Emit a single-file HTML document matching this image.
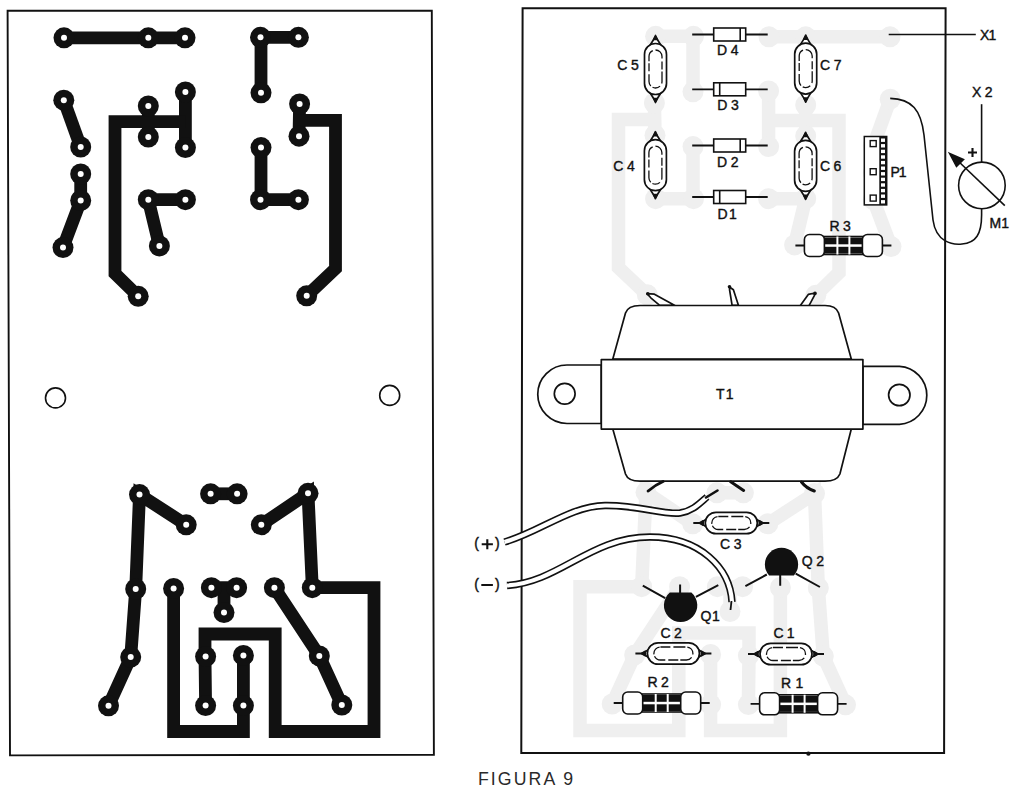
<!DOCTYPE html><html><head><meta charset="utf-8"><style>html,body{margin:0;padding:0;background:#fff;overflow:hidden}svg{display:block}text{font-family:"Liberation Sans",sans-serif;fill:#111}</style></head><body>
<svg width="1019" height="793" viewBox="0 0 1019 793">
<defs><g id="tr" fill="none" stroke-linejoin="miter"><path d="M64,37.8H185"/><path d="M63.8,100.2L80.7,147"/><path d="M185.4,92V147.6"/><path d="M148.3,106V137"/><path d="M185.4,121.6H115V273.6L138.2,296.3"/><path d="M80.7,174V200.5L63,247.6"/><path d="M148.3,199.7H185.4M148.3,199.7L159.4,245.9"/><path d="M298.4,37.3H261V92.8"/><path d="M299.6,104L299,136.2M299.3,120.4H335.5V268.6L306.7,295.8"/><path d="M261,147.6V199.7H298.4"/><path d="M186.2,524.8L139.5,494.6L135.7,589L130.7,657.1L108.5,705.8"/><path d="M210.6,493.8H237.1"/><path d="M261.3,524.8L308,493.3L312.3,587.7H374V731.5H275.2V634H205V656.6L205.6,705.6"/><path d="M173.6,588.5V731.5H243.4V655.4"/><path d="M211.4,587.7H236.6M224,587.7V612.5"/><path d="M274.4,587.7L319.3,655.9L341.8,705"/></g><g id="pd"><circle cx="64" cy="37.8" r="10.5"/><circle cx="148.3" cy="37.8" r="10.5"/><circle cx="185" cy="37.8" r="10.5"/><circle cx="63.8" cy="100.2" r="10.5"/><circle cx="80.7" cy="147" r="10.5"/><circle cx="148.3" cy="106" r="10.5"/><circle cx="148.3" cy="137" r="10.5"/><circle cx="185.4" cy="92" r="10.5"/><circle cx="185.4" cy="147.6" r="10.5"/><circle cx="138.2" cy="296.3" r="10.5"/><circle cx="80.7" cy="174" r="10.5"/><circle cx="80.7" cy="200.5" r="10.5"/><circle cx="63" cy="247.6" r="10.5"/><circle cx="148.3" cy="199.7" r="10.5"/><circle cx="185.4" cy="199.7" r="10.5"/><circle cx="159.4" cy="245.9" r="10.5"/><circle cx="260.5" cy="37.3" r="10.5"/><circle cx="298.4" cy="37.3" r="10.5"/><circle cx="261" cy="92.8" r="10.5"/><circle cx="299.6" cy="104" r="10.5"/><circle cx="299" cy="136.2" r="10.5"/><circle cx="306.7" cy="295.8" r="10.5"/><circle cx="261" cy="147.6" r="10.5"/><circle cx="260.5" cy="199.7" r="10.5"/><circle cx="298.4" cy="199.7" r="10.5"/><circle cx="139.5" cy="494.6" r="10.5"/><circle cx="186.2" cy="524.8" r="10.5"/><circle cx="135.7" cy="589" r="10.5"/><circle cx="130.7" cy="657.1" r="10.5"/><circle cx="108.5" cy="705.8" r="10.5"/><circle cx="210.6" cy="493.8" r="10.5"/><circle cx="237.1" cy="493.8" r="10.5"/><circle cx="308" cy="493.3" r="10.5"/><circle cx="261.3" cy="524.8" r="10.5"/><circle cx="312.3" cy="587.7" r="10.5"/><circle cx="205.6" cy="656.6" r="10.5"/><circle cx="205.6" cy="705.6" r="10.5"/><circle cx="173.6" cy="588.5" r="10.5"/><circle cx="243.4" cy="705.6" r="10.5"/><circle cx="243.4" cy="655.4" r="10.5"/><circle cx="211.4" cy="587.7" r="10.5"/><circle cx="236.6" cy="587.7" r="10.5"/><circle cx="224" cy="612.5" r="10.5"/><circle cx="274.4" cy="587.7" r="10.5"/><circle cx="319.3" cy="655.9" r="10.5"/><circle cx="341.8" cy="705" r="10.5"/></g><g id="hl" fill="#fff"><circle cx="64" cy="37.8" r="3"/><circle cx="148.3" cy="37.8" r="3"/><circle cx="185" cy="37.8" r="3"/><circle cx="63.8" cy="100.2" r="3"/><circle cx="80.7" cy="147" r="3"/><circle cx="148.3" cy="106" r="3"/><circle cx="148.3" cy="137" r="3"/><circle cx="185.4" cy="92" r="3"/><circle cx="185.4" cy="147.6" r="3"/><circle cx="138.2" cy="296.3" r="3"/><circle cx="80.7" cy="174" r="3"/><circle cx="80.7" cy="200.5" r="3"/><circle cx="63" cy="247.6" r="3"/><circle cx="148.3" cy="199.7" r="3"/><circle cx="185.4" cy="199.7" r="3"/><circle cx="159.4" cy="245.9" r="3"/><circle cx="260.5" cy="37.3" r="3"/><circle cx="298.4" cy="37.3" r="3"/><circle cx="261" cy="92.8" r="3"/><circle cx="299.6" cy="104" r="3"/><circle cx="299" cy="136.2" r="3"/><circle cx="306.7" cy="295.8" r="3"/><circle cx="261" cy="147.6" r="3"/><circle cx="260.5" cy="199.7" r="3"/><circle cx="298.4" cy="199.7" r="3"/><circle cx="139.5" cy="494.6" r="3"/><circle cx="186.2" cy="524.8" r="3"/><circle cx="135.7" cy="589" r="3"/><circle cx="130.7" cy="657.1" r="3"/><circle cx="108.5" cy="705.8" r="3"/><circle cx="210.6" cy="493.8" r="3"/><circle cx="237.1" cy="493.8" r="3"/><circle cx="308" cy="493.3" r="3"/><circle cx="261.3" cy="524.8" r="3"/><circle cx="312.3" cy="587.7" r="3"/><circle cx="205.6" cy="656.6" r="3"/><circle cx="205.6" cy="705.6" r="3"/><circle cx="173.6" cy="588.5" r="3"/><circle cx="243.4" cy="705.6" r="3"/><circle cx="243.4" cy="655.4" r="3"/><circle cx="211.4" cy="587.7" r="3"/><circle cx="236.6" cy="587.7" r="3"/><circle cx="224" cy="612.5" r="3"/><circle cx="274.4" cy="587.7" r="3"/><circle cx="319.3" cy="655.9" r="3"/><circle cx="341.8" cy="705" r="3"/></g><g id="capV" stroke="#111111" stroke-width="1.7" fill="#fff" stroke-linejoin="round"><path d="M0,-32.5 L7.5,-20.5 L7.5,20.5 L0,32.5 L-7.5,20.5 L-7.5,-20.5Z"/><rect x="-11" y="-25.5" width="22" height="51" rx="11"/><path d="M-1.8,-29.5 L0,-33.5 L1.8,-29.5Z" fill="#111111"/><path d="M-1.8,29.5 L0,33.5 L1.8,29.5Z" fill="#111111"/><rect x="-6.5" y="-19" width="13" height="38" rx="6.5" fill="none" stroke-width="1.3" stroke-dasharray="12 3 8 2"/></g><g id="capH" stroke="#111111" stroke-width="1.7" fill="#fff" stroke-linejoin="round"><path d="M-38,0H-31M31,0H38" fill="none" stroke-width="2"/><path d="M-31,0 L-18,-8.4 H18 L31,0 L18,8.4 H-18Z"/><rect x="-26" y="-10.7" width="52" height="21.4" rx="10.7"/><path d="M-32,0 L-28,-2.2 L-28,2.2Z M32,0 L28,-2.2 L28,2.2Z" fill="#111111"/><rect x="-19.5" y="-6.5" width="39" height="13" rx="6.5" fill="none" stroke-width="1.3" stroke-dasharray="10 3 12 2"/></g><g id="res" stroke="#111111" stroke-width="1.6" fill="#fff"><path d="M-48,0H-39M39,0H48" fill="none" stroke-width="1.8"/><rect x="-20" y="-9" width="40" height="18" fill="#fff"/><rect x="-39" y="-11" width="20" height="22" rx="5"/><rect x="19" y="-11" width="20" height="22" rx="5"/><rect x="-19" y="-8" width="38" height="6.8" fill="#111111" stroke="none"/><rect x="-19" y="1.3" width="38" height="6.8" fill="#111111" stroke="none"/><path d="M-6,-9V9M6,-9V9" stroke="#fff" stroke-width="2"/></g></defs>
<rect width="1019" height="793" fill="#fff"/>
<path d="M7.6,10.8 L431.8,10.6 L433.9,754.8 L10,755.4Z" fill="none" stroke="#111" stroke-width="1.9"/>
<use href="#tr" stroke="#111111" stroke-width="12.8"/>
<use href="#pd" fill="#111111"/>
<use href="#hl"/>
<circle cx="55.5" cy="397.9" r="10" fill="none" stroke="#111111" stroke-width="1.6"/>
<circle cx="389.7" cy="395.4" r="10" fill="none" stroke="#111111" stroke-width="1.6"/>
<g>
<use href="#tr" stroke="#efefef" stroke-width="13.5" transform="matrix(-1,0,0,1,954,-1)"/>
<use href="#pd" fill="#efefef" transform="matrix(-1,0,0,1,954,-1) " style="opacity:1"/>
</g>
<circle cx="808.4" cy="753.6" r="2.2" fill="#111111"/>
<path d="M522.6,8.3 L945.6,8.3 L944.1,753.1 L521.3,753Z" fill="none" stroke="#111" stroke-width="2"/>
<use href="#capV" transform="translate(655.5,69)"/>
<use href="#capV" transform="translate(805.7,68.6)"/>
<use href="#capV" transform="translate(655.4,165.2)"/>
<use href="#capV" transform="translate(805.6,165.8)"/>
<use href="#capH" transform="translate(673.4,653.5)"/>
<use href="#capH" transform="translate(786,654)"/>
<use href="#capH" transform="translate(731.3,523)"/>
<g transform="translate(729.7,34.5)" stroke="#111111" stroke-width="1.6" fill="#fff"><path d="M-37.5,0H-16M16,0H38" fill="none" stroke-width="1.8"/><rect x="-16" y="-6.5" width="32" height="13"/><path d="M10.5,-6.5V6.5" fill="none"/></g>
<g transform="translate(729.7,89.3)" stroke="#111111" stroke-width="1.6" fill="#fff"><path d="M-37.5,0H-16M16,0H38" fill="none" stroke-width="1.8"/><rect x="-16" y="-6.5" width="32" height="13"/><path d="M-10,-6.5V6.5" fill="none"/></g>
<g transform="translate(729.7,145.5)" stroke="#111111" stroke-width="1.6" fill="#fff"><path d="M-37.5,0H-16M16,0H38" fill="none" stroke-width="1.8"/><rect x="-16" y="-6.5" width="32" height="13"/><path d="M10.5,-6.5V6.5" fill="none"/></g>
<g transform="translate(729.7,197)" stroke="#111111" stroke-width="1.6" fill="#fff"><path d="M-37.5,0H-16M16,0H38" fill="none" stroke-width="1.8"/><rect x="-16" y="-6.5" width="32" height="13"/><path d="M-10,-6.5V6.5" fill="none"/></g>
<use href="#res" transform="translate(661.7,703)"/>
<use href="#res" transform="translate(798.6,703.8)"/>
<use href="#res" transform="translate(843.4,245.5)"/>
<g stroke="#111111" stroke-width="1.5" fill="#fff"><rect x="864.3" y="136.5" width="22.4" height="68.4"/><rect x="879.3" y="136.5" width="7.4" height="68.4" fill="#111111" stroke="none"/><rect x="881" y="138.5" width="4" height="3.4" fill="#fff" stroke="none"/><rect x="881" y="144.1" width="4" height="3.4" fill="#fff" stroke="none"/><rect x="881" y="149.7" width="4" height="3.4" fill="#fff" stroke="none"/><rect x="881" y="155.3" width="4" height="3.4" fill="#fff" stroke="none"/><rect x="881" y="160.9" width="4" height="3.4" fill="#fff" stroke="none"/><rect x="881" y="166.5" width="4" height="3.4" fill="#fff" stroke="none"/><rect x="881" y="172.1" width="4" height="3.4" fill="#fff" stroke="none"/><rect x="881" y="177.7" width="4" height="3.4" fill="#fff" stroke="none"/><rect x="881" y="183.3" width="4" height="3.4" fill="#fff" stroke="none"/><rect x="881" y="188.9" width="4" height="3.4" fill="#fff" stroke="none"/><rect x="881" y="194.5" width="4" height="3.4" fill="#fff" stroke="none"/><rect x="881" y="200.1" width="4" height="3.4" fill="#fff" stroke="none"/><rect x="870.2" y="140.6" width="6" height="6" stroke-width="1.4"/><rect x="870.2" y="168.7" width="6" height="6" stroke-width="1.4"/><rect x="870.2" y="195.1" width="6" height="6" stroke-width="1.4"/></g>
<g stroke="#111111" stroke-width="1.7" fill="#fff" stroke-linejoin="round">
<path d="M659.7,305.4 L650.8,297.8 L647,293.6 L654.4,294.2 L674.9,305.4Z"/>
<path d="M732.1,305.4 L729.6,290 L729.5,287 L733.4,289.8 L738.5,305.4Z"/>
<path d="M800,305.9 L808.3,294.4 L815.3,293 L814.2,295.9 L808.9,305.9Z"/>
<circle cx="647.8" cy="293.8" r="1.8" fill="#111111" stroke="none"/><circle cx="729.5" cy="286.8" r="1.8" fill="#111111" stroke="none"/><circle cx="815" cy="293.4" r="1.8" fill="#111111" stroke="none"/>
<path d="M612.8,359 L625.5,313 Q628,305.5 640,305.5 H825 Q836,305.5 838.6,313 L851.3,359Z"/>
<path d="M612.8,429 L625.5,474 Q628,481.2 640,481.2 H825 Q837,481.2 839.9,474 L851.3,429Z"/>
<path d="M601.3,365 H567 A29,29 0 0 0 567,423.5 H601.3Z"/>
<path d="M862.9,366.4 H899.5 A29,29 0 0 1 899.5,424.3 H862.9Z"/>
<circle cx="564.7" cy="393.7" r="10.4"/><circle cx="899.3" cy="395" r="10.7"/>
<rect x="601.3" y="359.6" width="261.6" height="69.5"/>
</g>
<g stroke="#111111" stroke-width="3" stroke-linecap="round"><path d="M648.2,491 Q655,485 663,481.5M730.7,481.8 Q737,486 743.6,490.4M801.5,482 Q806,488 814.3,491"/></g>
<path d="M504.5,542 C540,532 570,506 605,505.5 C640,505 662,515 680,513 C693,511 700,503 707,497" fill="none" stroke="#111111" stroke-width="7.4" stroke-linecap="butt"/><path d="M504.5,542 C540,532 570,506 605,505.5 C640,505 662,515 680,513 C693,511 700,503 707,497" fill="none" stroke="#fff" stroke-width="4.2" stroke-linecap="butt"/>
<path d="M706,497.5 L717.5,490.5" stroke="#111111" stroke-width="2.6" stroke-linecap="round"/>
<path d="M507,585.5 C560,582 590,537 650,537 C700,537 730,568 732,602" fill="none" stroke="#111111" stroke-width="7.4" stroke-linecap="butt"/><path d="M507,585.5 C560,582 590,537 650,537 C700,537 730,568 732,602" fill="none" stroke="#fff" stroke-width="4.2" stroke-linecap="butt"/>
<path d="M731.5,601 L730.5,610" stroke="#111111" stroke-width="1.8"/>
<g stroke="#111111" stroke-width="2" fill="#111111"><path d="M669.8,592.6 H691.4 A16.7,16.7 0 1 1 669.8,592.6Z" stroke="none"/><path d="M642.8,585.7L665.2,598.2M695.9,596.9L718.3,585.1M680.1,584.4V593" fill="none"/><path d="M769.1,575.4 H793.9 A16.6,16.6 0 1 0 769.1,575.4Z" stroke="none"/><path d="M766.8,574.5L745.4,586.2M795.7,573.6L819.9,587M780.2,575V585.7" fill="none"/></g>
<g stroke="#111111" stroke-width="1.6" fill="none"><path d="M888.7,34.5H975.8"/><path d="M981.6,104.2V162.2"/><circle cx="981.9" cy="185.4" r="23.3"/><path d="M1004.8,205.7L957,160"/><path d="M890.2,98.4 C912,99 921,110 924,135 L933,220 C936,242 952,245 962,244 C976,243 981.6,234 981.6,215 V208.6"/><path d="M949.6,153.5L963.5,159.5L956.5,166.5Z" fill="#111111"/><path d="M968,152.5H977M972.5,148V157" stroke-width="2.1"/></g>
<g font-size="14" style="stroke:#111;stroke-width:0.4px"><text x="617.2" y="70.0" letter-spacing="3.6">C5</text><text x="820.0" y="70.0" letter-spacing="3.6">C7</text><text x="613.2" y="170.5" letter-spacing="3.6">C4</text><text x="819.9" y="170.6" letter-spacing="3.6">C6</text><text x="717.1" y="55.2" letter-spacing="3.6">D4</text><text x="717.2" y="110.0" letter-spacing="3.6">D3</text><text x="717.0" y="167.0" letter-spacing="3.6">D2</text><text x="717.4" y="219.3" letter-spacing="1.6">D1</text><text x="890.5" y="176.5" letter-spacing="-1.0">P1</text><text x="829.4" y="230.6" letter-spacing="3.6">R3</text><text x="980.0" y="40.3" letter-spacing="-0.8">X1</text><text x="971.9" y="96.8" letter-spacing="3.6">X2</text><text x="989.4" y="228.0" letter-spacing="0.2">M1</text><text x="720.0" y="549.0" letter-spacing="3.6">C3</text><text x="801.7" y="565.8" letter-spacing="3.6">Q2</text><text x="700.6" y="620.9" letter-spacing="0.6">Q1</text><text x="660.4" y="637.6" letter-spacing="3.6">C2</text><text x="773.4" y="637.5" letter-spacing="3.2">C1</text><text x="647.4" y="687.4" letter-spacing="3.6">R2</text><text x="781.1" y="687.5" letter-spacing="4.4">R1</text><text x="716.0" y="399.2" letter-spacing="1.3">T1</text></g>
<g stroke="#111111" stroke-width="2.1" fill="none"><path d="M481.7,544.2H492.9M487.3,539.2V549.2M481.3,585H492.9"/></g>
<g font-size="14" style="stroke:#111;stroke-width:0.4px"><text x="474.3" y="547.8">(</text><text x="494.9" y="547.8">)</text><text x="474.3" y="588.8">(</text><text x="494.9" y="588.8">)</text></g>
<text x="477.9" y="785.3" font-size="17.7" letter-spacing="2.1" style="fill:#2a2a2a">FIGURA 9</text>
</svg></body></html>
